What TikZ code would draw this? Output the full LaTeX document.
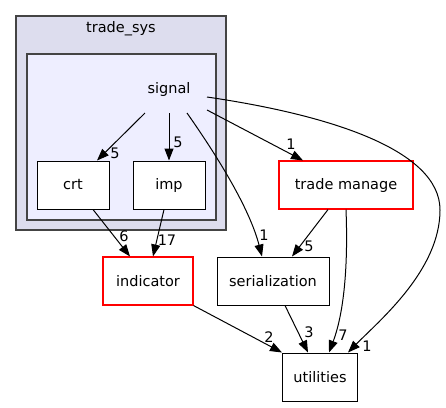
\documentclass[tikz,border=0pt]{standalone}
\usepackage{fontspec}
\setmainfont{DejaVu Sans}
\usetikzlibrary{arrows.meta}
\definecolor{sysfill}{HTML}{DDDDEE}
\definecolor{sigfill}{HTML}{EEEEFF}
\definecolor{clusterline}{HTML}{444444}
\definecolor{alertline}{HTML}{FF0000}
\tikzset{
  dirbox/.style={draw, fill=white, line width=1pt, minimum height=48pt,
                 font=\fontsize{14.5}{16}\selectfont, inner sep=0pt},
  reddir/.style={dirbox, draw=alertline, line width=1.1pt},
  dep/.style={-{Triangle[length=12pt,width=9pt]}, line width=1pt},
  cnt/.style={font=\fontsize{14.5}{16}\selectfont, inner sep=0pt},
  cluster/.style={draw=clusterline, line width=1.2pt},
}
\begin{document}
\begin{tikzpicture}[x=1pt, y=-1pt]
    \useasboundingbox (0,0) rectangle (446,407);
    % clusters
    \draw[cluster, fill=sysfill] (16,16) rectangle (226,230);
    \draw[cluster, fill=sigfill] (27,54) rectangle (216,220);
    \node[cnt] (sys) at (121,29) {trade\_sys};
    \node[cnt] (signal) at (169,89) {signal};
    \coordinate (sigA) at (145,113);
    \coordinate (sigB) at (169,113);
    \coordinate (sigC) at (187,113);
    \coordinate (sigD) at (207,110);
    \coordinate (sigE) at (207,97);
    % directories
    \node[dirbox, minimum width=72pt] (crt) at (73,185) {crt};
    \node[dirbox, minimum width=72pt] (imp) at (169,185) {imp};
    \node[reddir, minimum width=134pt] (manage) at (346,185) {trade manage};
    \node[reddir, minimum width=90pt] (indicator) at (148,281) {indicator};
    \node[dirbox, minimum width=112pt] (serial) at (273,281) {serialization};
    \node[dirbox, minimum width=75pt] (util) at (320,377) {utilities};
    % dependencies
    \draw[dep] (sigA) -- (crt.north -| 97,0);
    \draw[dep] (sigB) -- (imp.north);
    \draw[dep] (sigC) .. controls (220,160) and (250,210) .. (serial.north -| 262,0);
    \draw[dep] (sigD) -- (manage.north -| 303,0);
    \draw[dep] (sigE) .. controls (330,115) and (440,150) .. (440,210)
                      .. controls (440,270) and (380,320) .. (util.north east -| 348,0);
    \draw[dep] (crt.south -| 93,0) -- (indicator.north -| 130,0);
    \draw[dep] (imp.south -| 164,0) -- (indicator.north -| 153,0);
    \draw[dep] (manage.south -| 328,0) -- (serial.north -| 292,0);
    \draw[dep] (manage.south) .. controls (348,260) and (345,310) .. (util.north -| 329,0);
    \draw[dep] (indicator.south east) -- (util.north west -| 282,355);
    \draw[dep] (serial.south -| 285,0) -- (util.north -| 308,0);
    % counts
    \node[cnt] (n1) at (115,153) {5};
    \node[cnt] (n2) at (178,142) {5};
    \node[cnt] (n3) at (264,235) {1};
    \node[cnt] (n4) at (291,144) {1};
    \node[cnt] (n5) at (367,346) {1};
    \node[cnt] (n6) at (124,236) {6};
    \node[cnt] (n7) at (167,240) {17};
    \node[cnt] (n8) at (309,246) {5};
    \node[cnt] (n9) at (269,337) {2};
    \node[cnt] (n10) at (309,332) {3};
    \node[cnt] (n11) at (343,335) {7};
  \end{tikzpicture}
\end{document}
